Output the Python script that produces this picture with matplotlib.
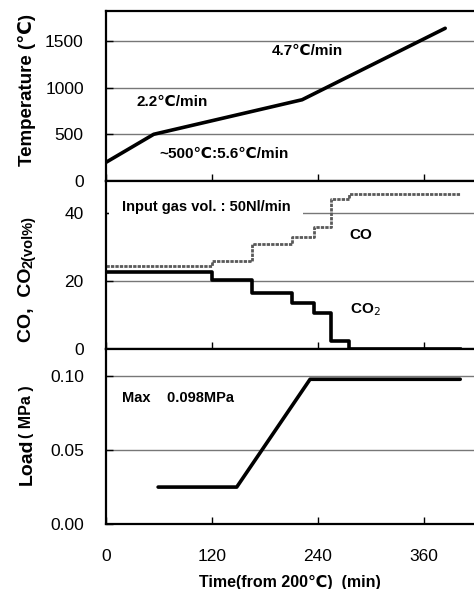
import matplotlib
matplotlib.use("Agg")
import matplotlib.pyplot as plt

plt.rcParams['font.family'] = ['Liberation Sans', 'DejaVu Sans']

# heating schedule (time from 200 C, min)
temp_time = [0, 54, 222, 384]
temp_val = [200, 500, 870, 1635]

# gas composition steps (value holds until next step)
gas_time = [0, 120, 165, 210, 235, 255, 275, 401]
co_val = [24.4, 26.0, 30.9, 32.8, 36.0, 44.1, 45.7, 45.7]
co2_val = [22.5, 20.2, 16.4, 13.4, 10.5, 2.3, 0.0, 0.0]

# applied load
load_time = [59, 148, 231, 401]
load_val = [0.025, 0.025, 0.098, 0.098]

x_ticks = [0, 120, 240, 360]

W, H = 474, 589
fig = plt.figure(figsize=(W / 100, H / 100), dpi=100)


def make_axes(top_px, bottom_px):
    ax = fig.add_axes([106 / W, 1 - bottom_px / H, 371 / W, (bottom_px - top_px) / H])
    ax.set_xlim(0, 420)
    ax.set_xticks(x_ticks)
    ax.tick_params(direction='in', length=5, width=1, labelsize=12.5, pad=16)
    ax.tick_params(axis='x', labelbottom=False)
    for side in ['left', 'top', 'bottom']:
        ax.spines[side].set_linewidth(1.6)
    ax.spines['right'].set_visible(False)
    ax.grid(axis='y', color='#777777', lw=1)
    ax.set_axisbelow(True)
    return ax


ax1 = make_axes(11, 181)
ax2 = make_axes(181, 349)
ax3 = make_axes(349, 524)

# temperature
ax1.plot(temp_time, temp_val, color='black', lw=2.6, solid_capstyle='round')
ax1.set_ylim(0, 1820)
ax1.set_yticks([0, 500, 1000, 1500])
ax1.text(188, 1350, '4.7℃/min', fontsize=11, fontweight='bold')
ax1.text(34, 800, '2.2℃/min', fontsize=11, fontweight='bold')
ax1.text(60, 250, '~500℃:5.6℃/min', fontsize=11, fontweight='bold')

# gas composition
ax2.step(gas_time, co_val, where='post', color='#5a5a5a', lw=2, ls=(0, (1.2, 0.4)))
ax2.step(gas_time, co2_val, where='post', color='black', lw=2.6)
ax2.set_ylim(0, 49.4)
ax2.set_yticks([0, 20, 40])
ax2.text(18, 40.5, 'Input gas vol. : 50Nl/min', fontsize=10.5, fontweight='bold',
         bbox=dict(facecolor='white', edgecolor='none', pad=9), zorder=1)
ax2.text(276, 33.5, 'CO', fontsize=11, fontweight='bold', va='center')
ax2.text(276, 11.5, 'CO$_2$', fontsize=11, fontweight='bold', va='center')

# load
ax3.plot(load_time, load_val, color='black', lw=2.6, solid_capstyle='round')
ax3.set_ylim(0, 0.1185)
ax3.set_yticks([0.00, 0.05, 0.10])
ax3.set_yticklabels(['0.00', '0.05', '0.10'])
ax3.text(18, 0.085, 'Max    0.098MPa', fontsize=10.5, fontweight='bold', va='center')
ax3.tick_params(axis='x', labelbottom=True, pad=18)
ax3.set_xlabel('Time(from 200℃)  (min)', fontsize=11.5, fontweight='bold')
ax3.xaxis.set_label_coords(0.495, -0.29)

# y labels built from pieces with mixed sizes
lx = 27 / W
fig.text(lx, 1 - 90 / H, 'Temperature (℃)', rotation=90, ha='center', va='center',
         fontsize=13.5, fontweight='bold')
t_co = fig.text(lx, 1 - 342 / H, 'CO,  CO', rotation=90, ha='center', va='bottom',
                fontsize=14, fontweight='bold')
ax2.annotate('2(vol%)', xy=(0.6, 1), xycoords=t_co, rotation=90, ha='center',
             va='bottom', fontsize=10.5, fontweight='bold', annotation_clip=False)
t_load = fig.text(lx, 1 - 485 / H, 'Load', rotation=90, ha='center', va='bottom',
                  fontsize=14, fontweight='bold')
ax3.annotate('( MPa )', xy=(0.5, 1), xycoords=t_load, rotation=90, ha='center',
             va='bottom', fontsize=11.5, fontweight='bold', annotation_clip=False)

fig.savefig('out.png', dpi=100)
